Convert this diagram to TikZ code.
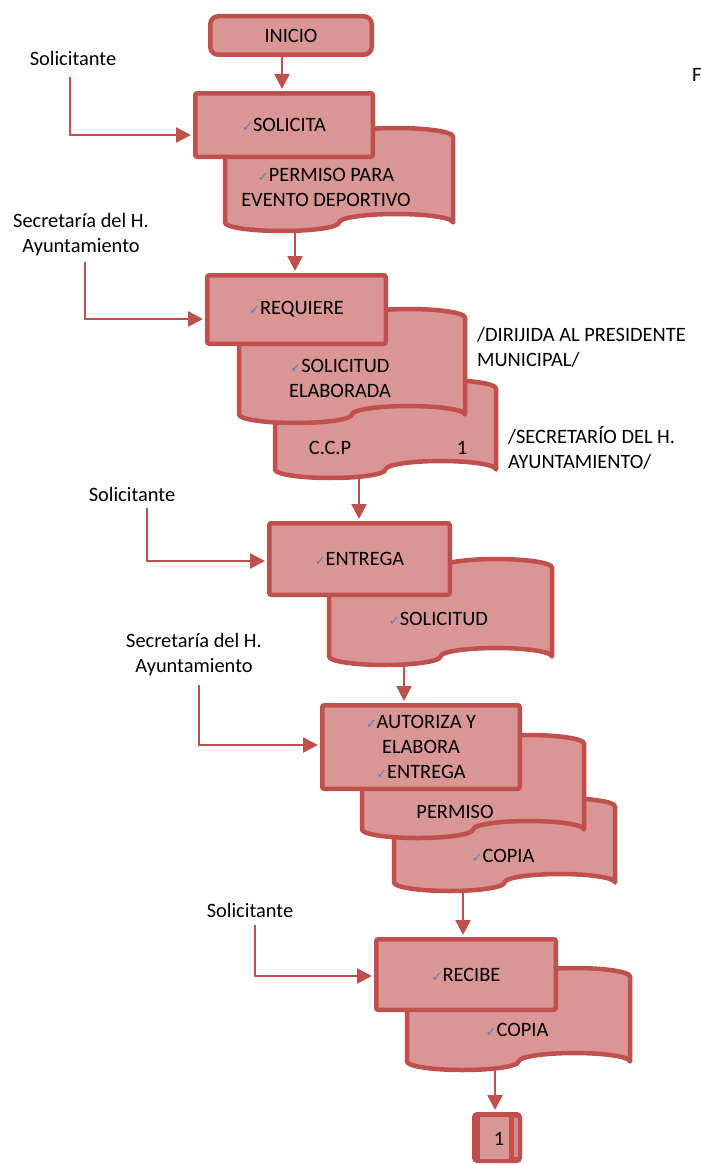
\documentclass[tikz,border=0pt]{standalone}
\usepackage{fontspec}
\setmainfont{Carlito}
\newfontfamily\dejavu{DejaVu Sans}
\usetikzlibrary{arrows.meta}
\definecolor{edge}{HTML}{C0504D}
\definecolor{boxfill}{HTML}{D99694}
\definecolor{tickblue}{HTML}{4F81BD}
% small blue check before an item
\newcommand\vmark{{\dejavu\fontsize{13}{13}\selectfont\color{tickblue}✓}}
% punched-tape document: left x, top y, right x, bottom y (wave amplitude 8.5)
\newcommand\tape[4]{%
  \filldraw[docshape] (#1,#2+8.5)
    arc[start angle=180,end angle=0,x radius={(#3-#1)/4},y radius=8.5]
    arc[start angle=180,end angle=360,x radius={(#3-#1)/4},y radius=8.5]
    -- (#3,#4-8.5)
    arc[start angle=0,end angle=-180,x radius={(#3-#1)/4},y radius=8.5]
    arc[start angle=0,end angle=180,x radius={(#3-#1)/4},y radius=8.5]
    -- cycle;}
\begin{document}
\begin{tikzpicture}[x=1pt,y=-1pt,
  font=\fontsize{20.4}{25}\selectfont,
  box/.style={draw=edge,fill=boxfill,line width=4.5pt,inner sep=0pt,align=center,rounded corners=2pt},
  docshape/.style={draw=edge,fill=boxfill,line width=4.5pt,line join=round},
  txt/.style={inner sep=0pt,align=center},
  arr/.style={draw=edge,line width=2.5pt,-{Triangle[length=15pt,width=15pt]},shorten >=2pt}]
\fill[white] (0,0) rectangle (701,1164);
\useasboundingbox (0,0) rectangle (701,1164);

% start
\node[box,rounded corners=8pt,minimum width=161.5pt,minimum height=38.5pt] (inicio) at (291,35.5) {INICIO};

% step 1
\tape{225}{128}{453}{231}
\node[box,minimum width=177.5pt,minimum height=63.5pt] (solicita) at (284,125) {\vmark SOLICITA};
\node[txt] (t1) at (326,187.5) {\vmark PERMISO PARA\\EVENTO DEPORTIVO};

% step 2
\tape{275}{380}{496}{478}
\tape{239}{309}{465}{423}
\node[box,minimum width=178.5pt,minimum height=68.5pt] (requiere) at (296.5,309.5) {\vmark REQUIERE};
\node[txt] (t2) at (340,378) {\vmark SOLICITUD\\ELABORADA};
\node[txt] (t3a) at (330,448) {C.C.P};
\node[txt] (t3b) at (462,448) {1};

% step 3
\tape{329}{559}{552}{665}
\node[box,minimum width=180.5pt,minimum height=71.5pt] (entrega) at (359.5,559) {\vmark ENTREGA};
\node[txt] (t4) at (438.5,619) {\vmark SOLICITUD};

% step 4
\tape{394}{798}{615}{891}
\tape{362}{735}{584}{838}
\node[box,minimum width=197.5pt,minimum height=83.5pt] (autoriza) at (421,747) {\vmark AUTORIZA Y\\ELABORA\\\vmark ENTREGA};
\node[txt] (t5) at (455,812) {PERMISO};
\node[txt] (t6) at (503,856) {\vmark COPIA};

% step 5
\tape{407}{968}{630}{1070}
\node[box,minimum width=179.5pt,minimum height=70.5pt] (recibe) at (466,974.5) {\vmark RECIBE};
\node[txt] (t7) at (517,1030) {\vmark COPIA};

% off-page connector
\node[draw=edge,fill=edge,line width=2pt,rounded corners=4pt,minimum width=48pt,minimum height=49pt,inner sep=0pt] (conn) at (497,1137.5) {};
\fill[boxfill] (480,1117) rectangle (509,1159);
\fill[boxfill!85!edge] (514,1118) rectangle (518,1157);
\node[txt] (connlbl) at (499,1139) {1};

% side labels
\node[txt] (lab1) at (73,58) {Solicitante};
\node[txt] (lab2) at (81,235) {Secretaría del H.\\Ayuntamiento};
\node[txt] (lab3) at (132,494) {Solicitante};
\node[txt] (lab4) at (194,655) {Secretaría del H.\\Ayuntamiento};
\node[txt] (lab5) at (250,910) {Solicitante};
\node[txt,anchor=west,align=left] (lab6) at (477,347.5) {/DIRIJIDA AL PRESIDENTE\\MUNICIPAL/};
\node[txt,anchor=west,align=left] (lab7) at (508,447.5) {/SECRETARÍO DEL H.\\AYUNTAMIENTO/};
\node[txt,anchor=west] (lab8) at (692,75) {F};

% main flow
\coordinate (c1) at (282,0);
\draw[arr] (c1 |- inicio.south) -- (c1 |- solicita.north);
\coordinate (d1b) at (295,230);
\draw[arr] (d1b) -- (d1b |- requiere.north);
\coordinate (d3b) at (359,476);
\draw[arr] (d3b) -- (d3b |- entrega.north);
\coordinate (d4b) at (404,664);
\draw[arr] (d4b) -- (d4b |- autoriza.north);
\coordinate (d6b) at (463,890);
\draw[arr] (d6b) -- (d6b |- recibe.north);
\coordinate (d7b) at (495,1068);
\draw[arr] (d7b) -- (d7b |- conn.north);

% participants
\coordinate (s1) at (70,77);
\draw[arr] (s1) |- ([yshift=-10pt]solicita.west);
\coordinate (s2) at (85,262);
\draw[arr] (s2) |- ([yshift=-9.5pt]requiere.west);
\coordinate (s3) at (147,508);
\draw[arr] (s3) |- ([yshift=-2pt]entrega.west);
\coordinate (s4) at (199,685);
\draw[arr] (s4) |- ([yshift=2pt]autoriza.west);
\coordinate (s5) at (255,925);
\draw[arr] (s5) |- ([yshift=-1.5pt]recibe.west);
\end{tikzpicture}
\end{document}
